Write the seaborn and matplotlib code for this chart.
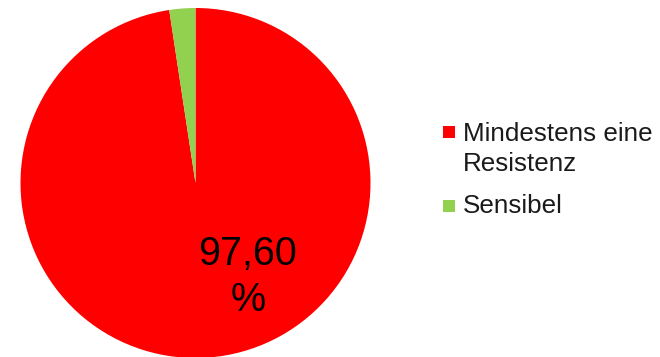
import matplotlib
matplotlib.use("Agg")
import matplotlib.pyplot as plt
from matplotlib.patches import Rectangle
import seaborn as sns

# Anteil der Isolate mit mindestens einer Resistenz vs. sensibel (in %)
categories = ["Mindestens eine\nResistenz", "Sensibel"]
values = [97.60, 2.40]
colors = ["#FF0000", "#92D050"]

sns.set_theme(style="white")
plt.rcParams["font.family"] = ["Liberation Sans", "DejaVu Sans"]

W, H = 660, 357
fig = plt.figure(figsize=(W / 100, H / 100), dpi=100)
fig.patch.set_facecolor("white")

# Kreis: Mittelpunkt (195.5, 183) px, Radius 175 px
cx, cy, r = 195.5, 183.0, 175.0
ax = fig.add_axes([(cx - r) / W, (H - cy - r) / H, 2 * r / W, 2 * r / H])
ax.pie(values, colors=colors, startangle=90, counterclock=False,
       wedgeprops=dict(linewidth=0, antialiased=True), radius=1.0)
ax.set_xlim(-1, 1)
ax.set_ylim(-1, 1)
ax.set_aspect("equal")
ax.axis("off")

# Datenbeschriftung des großen Segments
label = f"{values[0]:.2f}".replace(".", ",") + "\n%"
ax.text(0.30, -0.537, label, ha="center", va="center", fontsize=28.5,
        color="#000000", multialignment="center", linespacing=1.25)

# Legende rechts
leg_x_box, leg_x_txt = 443, 463
baselines = [141, 213]
box_tops = [125.5, 200]
box = 12
fs = 18.7
for cat, col, base, top in zip(categories, colors, baselines, box_tops):
    fig.patches.append(Rectangle((leg_x_box / W, 1 - (top + box) / H), box / W, box / H,
                                 transform=fig.transFigure, facecolor=col,
                                 edgecolor="none"))
    fig.text(leg_x_txt / W, 1 - base / H, cat.split("\n")[0], ha="left",
             va="baseline", fontsize=fs, color="#1a1a1a")
    for i, extra in enumerate(cat.split("\n")[1:], start=1):
        fig.text(leg_x_txt / W, 1 - (base + 30 * i) / H, extra, ha="left",
                 va="baseline", fontsize=fs, color="#1a1a1a")

fig.savefig("out.png", dpi=100, facecolor="white")
